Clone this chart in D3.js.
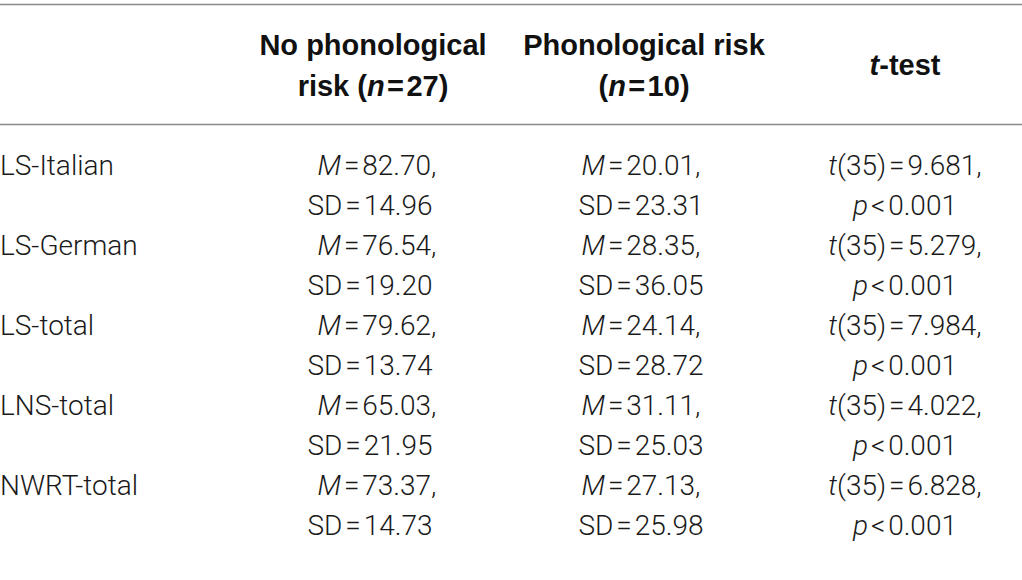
<!DOCTYPE html>
<html>
<head>
<meta charset="utf-8">
<script src="https://cdn.jsdelivr.net/npm/d3@7/dist/d3.min.js"></script>
<style>
  html, body { margin: 0; padding: 0; background: #fff; }
  svg { display: block; }
  .body-text { font-family: Roboto, "Liberation Sans", sans-serif; font-weight: 300; fill: #1a1a1a; }
  .head-text { font-family: "Liberation Sans", Arial, sans-serif; font-weight: bold; fill: #111; }
</style>
</head>
<body>
<svg id="chart" width="1022" height="580"></svg>
<script>
// ---- data ----
const categories = ["LS-Italian", "LS-German", "LS-total", "LNS-total", "NWRT-total"];
const noRiskM  = ["82.70", "76.54", "79.62", "65.03", "73.37"];
const noRiskSD = ["14.96", "19.20", "13.74", "21.95", "14.73"];
const riskM    = ["20.01", "28.35", "24.14", "31.11", "27.13"];
const riskSD   = ["23.31", "36.05", "28.72", "25.03", "25.98"];
const tValues  = ["9.681", "5.279", "7.984", "4.022", "6.828"];
const degreesOfFreedom = 35;
const pValues  = ["0.001", "0.001", "0.001", "0.001", "0.001"];
const columns  = ["label", "noRisk", "risk", "ttest"];
const groupN   = [27, 10];

// ---- layout ----
const W = 1022, H = 580;
const svg = d3.select("#chart");
const hs = "\u200A"; // hair space around relational signs

const y = d3.scaleBand().domain(categories).range([124, 524]);
const xCenter = d3.scaleOrdinal().domain(columns).range([0, 373, 644, 905]);

// rules
svg.append("line").attr("x1", 0).attr("x2", W).attr("y1", 4.5).attr("y2", 4.5)
   .attr("stroke", "#8a8a8a").attr("stroke-width", 1.5);
svg.append("line").attr("x1", 0).attr("x2", W).attr("y1", 124.5).attr("y2", 124.5)
   .attr("stroke", "#8a8a8a").attr("stroke-width", 1.5);

function runs(textSel, parts) {
  parts.forEach(p => {
    textSel.append("tspan").text(p[0]).attr("font-style", p[1] ? "italic" : "normal");
  });
}

const FS = 28, HFS = 29;
// header
const hdr = svg.append("g").attr("class", "head-text").attr("font-size", HFS);
let t = hdr.append("text").attr("x", xCenter("noRisk")).attr("y", 55).attr("text-anchor", "middle");
runs(t, [["No phonological", false]]);
t = hdr.append("text").attr("x", xCenter("noRisk")).attr("y", 96).attr("text-anchor", "middle");
runs(t, [["risk (", false], ["n", true], [hs + "=" + hs + groupN[0] + ")", false]]);
t = hdr.append("text").attr("x", xCenter("risk")).attr("y", 55).attr("text-anchor", "middle");
runs(t, [["Phonological risk", false]]);
t = hdr.append("text").attr("x", xCenter("risk")).attr("y", 96).attr("text-anchor", "middle");
runs(t, [["(", false], ["n", true], [hs + "=" + hs + groupN[1] + ")", false]]);
t = hdr.append("text").attr("x", xCenter("ttest")).attr("y", 75).attr("text-anchor", "middle");
runs(t, [["t", true], ["-test", false]]);

// body rows
const rows = svg.append("g").attr("class", "body-text").attr("font-size", FS)
  .selectAll("g.row").data(categories).join("g").attr("class", "row")
  .attr("transform", d => `translate(0,${y(d) + 51})`);

rows.append("text").attr("x", xCenter("label")).attr("y", 0).text(d => d);

rows.each(function(d, i) {
  const g = d3.select(this);
  let tx = g.append("text").attr("x", xCenter("noRisk") + 4).attr("y", 0).attr("text-anchor", "middle");
  runs(tx, [["M", true], [hs + "=" + hs + noRiskM[i] + ",", false]]);
  tx = g.append("text").attr("x", xCenter("noRisk") - 3).attr("y", 40).attr("text-anchor", "middle");
  runs(tx, [["SD" + hs + "=" + hs + noRiskSD[i], false]]);

  tx = g.append("text").attr("x", xCenter("risk") - 3).attr("y", 0).attr("text-anchor", "middle");
  runs(tx, [["M", true], [hs + "=" + hs + riskM[i] + ",", false]]);
  tx = g.append("text").attr("x", xCenter("risk") - 3).attr("y", 40).attr("text-anchor", "middle");
  runs(tx, [["SD" + hs + "=" + hs + riskSD[i], false]]);

  tx = g.append("text").attr("x", xCenter("ttest")).attr("y", 0).attr("text-anchor", "middle");
  runs(tx, [["t", true], ["(" + degreesOfFreedom + ")" + hs + "=" + hs + tValues[i] + ",", false]]);
  tx = g.append("text").attr("x", xCenter("ttest")).attr("y", 40).attr("text-anchor", "middle");
  runs(tx, [["p", true], [hs + "<" + hs + pValues[i], false]]);
});
</script>
</body>
</html>
